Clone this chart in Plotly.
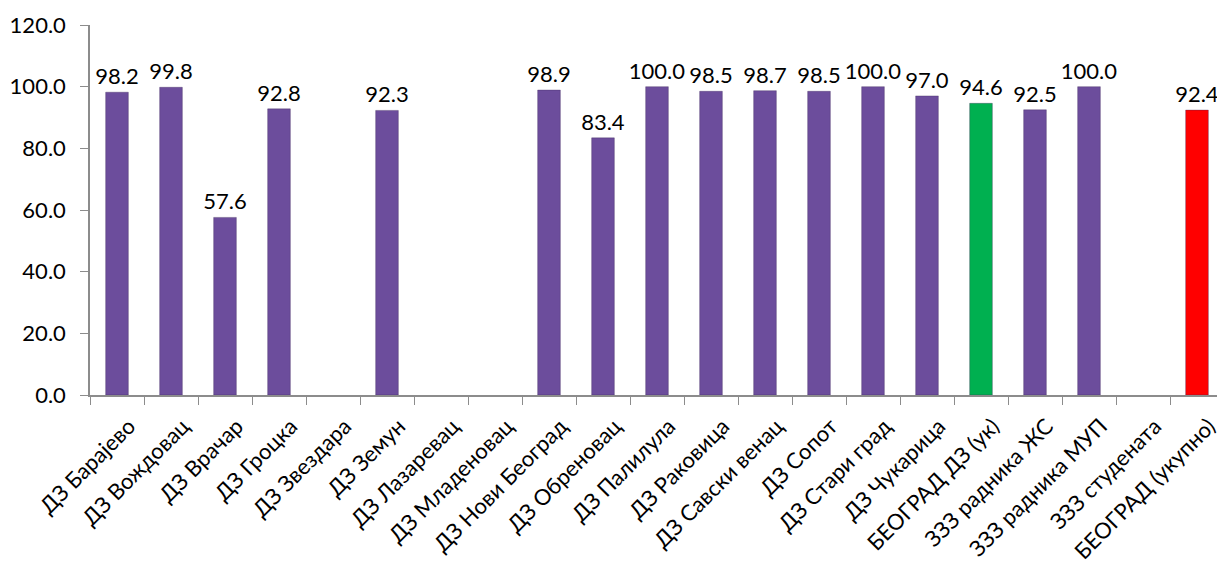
import plotly.graph_objects as go

categories = ["ДЗ Барајево", "ДЗ Вождовац", "ДЗ Врачар", "ДЗ Гроцка", "ДЗ Звездара",
              "ДЗ Земун", "ДЗ Лазаревац", "ДЗ Младеновац", "ДЗ Нови Београд",
              "ДЗ Обреновац", "ДЗ Палилула", "ДЗ Раковица", "ДЗ Савски венац",
              "ДЗ Сопот", "ДЗ Стари град", "ДЗ Чукарица", "БЕОГРАД ДЗ (ук)",
              "ЗЗЗ радника ЖС", "ЗЗЗ радника МУП", "ЗЗЗ студената", "БЕОГРАД (укупно)"]
values = [98.2, 99.8, 57.6, 92.8, None, 92.3, None, None, 98.9, 83.4, 100.0, 98.5,
          98.7, 98.5, 100.0, 97.0, 94.6, 92.5, 100.0, None, 92.4]
y_ticks = [0, 20, 40, 60, 80, 100, 120]

PURPLE = "#6C4D9C"
GREEN = "#00B050"
RED = "#FF0000"
colors = []
for c in categories:
    if c == "БЕОГРАД ДЗ (ук)":
        colors.append(GREEN)
    elif c == "БЕОГРАД (укупно)":
        colors.append(RED)
    else:
        colors.append(PURPLE)

texts = [("" if v is None else f"{v:.1f}") for v in values]
FONT = "Lato, Open Sans, sans-serif"

fig = go.Figure()
fig.add_trace(go.Bar(
    x=categories, y=values, width=0.42,
    marker=dict(color=colors, line=dict(color="rgba(60,40,90,0.35)", width=1)),
    text=texts, textposition="outside", cliponaxis=False, constraintext="none",
    textfont=dict(family=FONT, size=22, color="#000000"),
))

fig.update_layout(
    width=1217, height=566,
    paper_bgcolor="white", plot_bgcolor="white",
    margin=dict(l=82, r=1, t=17, b=179),
    showlegend=False,
    font=dict(family=FONT, color="#000000"),
    xaxis=dict(
        type="category", tickangle=-45, ticks="outside", tickson="boundaries",
        ticklen=8, tickcolor="#8C8C8C", showline=True, linecolor="#8C8C8C",
        linewidth=1.5, tickfont=dict(size=22), showgrid=False, automargin=False,
        ticklabelshift=12, ticklabelstandoff=8,
    ),
    yaxis=dict(
        range=[0, 120], tickvals=y_ticks, tickformat=".1f", ticks="outside",
        ticklen=8, tickcolor="#8C8C8C", showline=True, linecolor="#8C8C8C",
        linewidth=1.5, tickfont=dict(size=22), showgrid=False, zeroline=False,
        automargin=False, ticklabelstandoff=10,
    ),
)

fig.write_html("out.html")
